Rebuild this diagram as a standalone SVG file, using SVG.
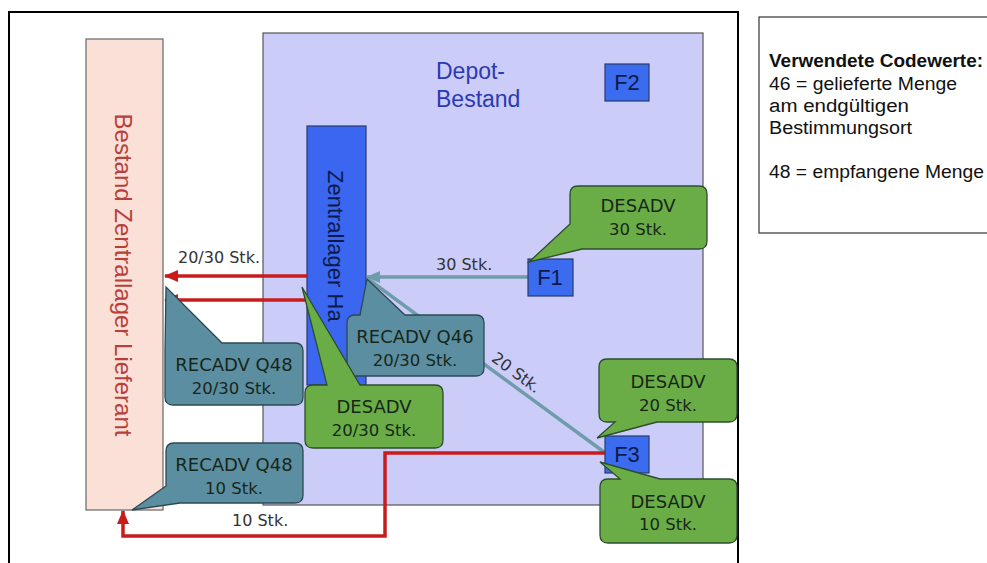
<svg xmlns="http://www.w3.org/2000/svg" width="987" height="563" viewBox="0 0 987 563">
<defs>
<style>
.frame{fill:none;stroke:#000;stroke-width:2}
.legend{fill:#fff;stroke:#333;stroke-width:1.2}
.lg{font-family:"Liberation Sans",Arial,sans-serif;font-size:18px;fill:#111}
.pink{fill:#fbe0d8;stroke:#666;stroke-width:1.2}
.depot{fill:#ccccf9;stroke:#555;stroke-width:1.2}
.blue{fill:#3a66f0;stroke:#2a3a6a;stroke-width:1.2}
.fbox{fill:#3b6cf0;stroke:#2a3a6a;stroke-width:1.2}
.ftxt{font-family:"Liberation Sans",Arial,sans-serif;font-size:22px;fill:#0c1a4a;text-anchor:middle}
.green{fill:#6aad46;stroke:#2d4d2d;stroke-width:1.3}
.teal{fill:#5b8ea0;stroke:#2c4954;stroke-width:1.3}
.c1{font-family:"DejaVu Sans",Verdana,sans-serif;font-size:18px;fill:#18261a;text-anchor:middle}
.c2{font-family:"DejaVu Sans",Verdana,sans-serif;font-size:16.5px;fill:#18261a;text-anchor:middle}
.el{font-family:"DejaVu Sans",Verdana,sans-serif;font-size:16px;fill:#333}
.red{fill:none;stroke:#c81c1c;stroke-width:3.5}
.tl{fill:none;stroke:#6f9cab;stroke-width:3.5}
</style>
<marker id="ar" markerUnits="userSpaceOnUse" markerWidth="14" markerHeight="12" refX="13" refY="6" orient="auto"><path d="M0,0 L14,6 L0,12 z" fill="#c81c1c"/></marker>
<marker id="at" markerUnits="userSpaceOnUse" markerWidth="14" markerHeight="12" refX="13" refY="6" orient="auto"><path d="M0,0 L14,6 L0,12 z" fill="#6f9cab"/></marker>
</defs>
<rect class="frame" x="9" y="12" width="729" height="580"/>
<g id="legend">
<rect class="legend" x="759" y="17" width="240" height="216"/>
<text class="lg" x="769" y="67" font-weight="bold" textLength="214" lengthAdjust="spacingAndGlyphs">Verwendete Codewerte:</text>
<text class="lg" x="769" y="90" textLength="188" lengthAdjust="spacingAndGlyphs">46 = gelieferte Menge</text>
<text class="lg" x="769" y="112" textLength="140" lengthAdjust="spacingAndGlyphs">am endgültigen</text>
<text class="lg" x="769" y="134" textLength="143" lengthAdjust="spacingAndGlyphs">Bestimmungsort</text>
<text class="lg" x="769" y="178" textLength="215" lengthAdjust="spacingAndGlyphs">48 = empfangene Menge</text>
</g>
<g id="lieferant">
<rect class="pink" x="86" y="39" width="77" height="471"/>
<text transform="translate(115,275) rotate(90)" text-anchor="middle" font-family="Liberation Sans, Arial, sans-serif" font-size="24" fill="#b8403c">Bestand Zentrallager Lieferant</text>
</g>
<g id="depot">
<rect class="depot" x="263" y="33" width="440" height="472"/>
<text x="436" y="79" font-family="Liberation Sans, Arial, sans-serif" font-size="23" fill="#2a3ab4">Depot-</text>
<text x="436" y="107" font-family="Liberation Sans, Arial, sans-serif" font-size="23" fill="#2a3ab4">Bestand</text>
</g>
<g id="zentrallager">
<rect class="blue" x="307" y="126" width="59" height="259"/>
<text transform="translate(328,170) rotate(90)" font-family="Liberation Sans, Arial, sans-serif" font-size="22" fill="#0c1a4a">Zentrallager Ha</text>
</g>
<g id="connectors">
<path class="red" d="M307,276 H165" marker-end="url(#ar)"/>
<path class="red" d="M307,300 H165" marker-end="url(#ar)"/>
<path class="tl" d="M528,277 H367" marker-end="url(#at)"/>
<path class="tl" d="M604,452 L368,279"/>
<path class="red" d="M606,453 H385 V536 H123 V511" marker-end="url(#ar)"/>
<text class="el" x="178" y="263">20/30 Stk.</text>
<text class="el" x="436" y="270">30 Stk.</text>
<text class="el" x="232" y="526">10 Stk.</text>
<text class="el" transform="translate(516,373) rotate(36.4)" text-anchor="middle" y="5">20 Stk.</text>
</g>
<g id="F2"><rect class="fbox" x="605" y="64" width="44" height="37"/><text class="ftxt" x="627" y="90">F2</text></g>
<g id="F1"><rect class="fbox" x="528" y="259" width="45" height="37"/><text class="ftxt" x="550" y="285">F1</text></g>
<g id="F3"><rect class="fbox" x="605" y="436" width="44" height="37"/><text class="ftxt" x="627" y="462">F3</text></g>
<g id="desadv30">
<path class="green" d="M578,186 H699 Q707,186 707,194 V241 Q707,249 699,249 H582 L529,262 L570,224 V194 Q570,186 578,186 Z"/>
<text class="c1" x="638" y="212">DESADV</text><text class="c2" x="638" y="235">30 Stk.</text>
</g>
<g id="recadv48a">
<path class="teal" d="M222,343 H295 Q303,343 303,351 V397 Q303,405 295,405 H173 Q165,405 165,397 V352 L166,287 Z"/>
<text class="c1" x="234" y="371">RECADV Q48</text><text class="c2" x="234" y="394">20/30 Stk.</text>
</g>
<g id="recadv48b">
<path class="teal" d="M174,443 H295 Q303,443 303,451 V495 Q303,503 295,503 H180 L132,510 L166,486 V451 Q166,443 174,443 Z"/>
<text class="c1" x="234" y="471">RECADV Q48</text><text class="c2" x="234" y="494">10 Stk.</text>
</g>
<g id="recadv46">
<path class="teal" d="M355,315 H360 L367,279 L405,315 H476 Q484,315 484,323 V368 Q484,376 476,376 H355 Q347,376 347,368 V323 Q347,315 355,315 Z"/>
<text class="c1" x="415" y="343">RECADV Q46</text><text class="c2" x="415" y="366">20/30 Stk.</text>
</g>
<g id="desadv2030">
<path class="green" d="M313,385 H327 L302,287 L360,385 H435 Q443,385 443,393 V440 Q443,448 435,448 H313 Q305,448 305,440 V393 Q305,385 313,385 Z"/>
<text class="c1" x="374" y="413">DESADV</text><text class="c2" x="374" y="436">20/30 Stk.</text>
</g>
<g id="desadv20">
<path class="green" d="M607,359 H729 Q737,359 737,367 V414 Q737,422 729,422 H657 L597,438 L615,422 H607 Q599,422 599,414 V367 Q599,359 607,359 Z"/>
<text class="c1" x="668" y="388">DESADV</text><text class="c2" x="668" y="411">20 Stk.</text>
</g>
<g id="desadv10">
<path class="green" d="M608,479 H620 L600,462 L660,479 H729 Q737,479 737,487 V535 Q737,543 729,543 H608 Q600,543 600,535 V487 Q600,479 608,479 Z"/>
<text class="c1" x="668" y="508">DESADV</text><text class="c2" x="668" y="530">10 Stk.</text>
</g>
</svg>
